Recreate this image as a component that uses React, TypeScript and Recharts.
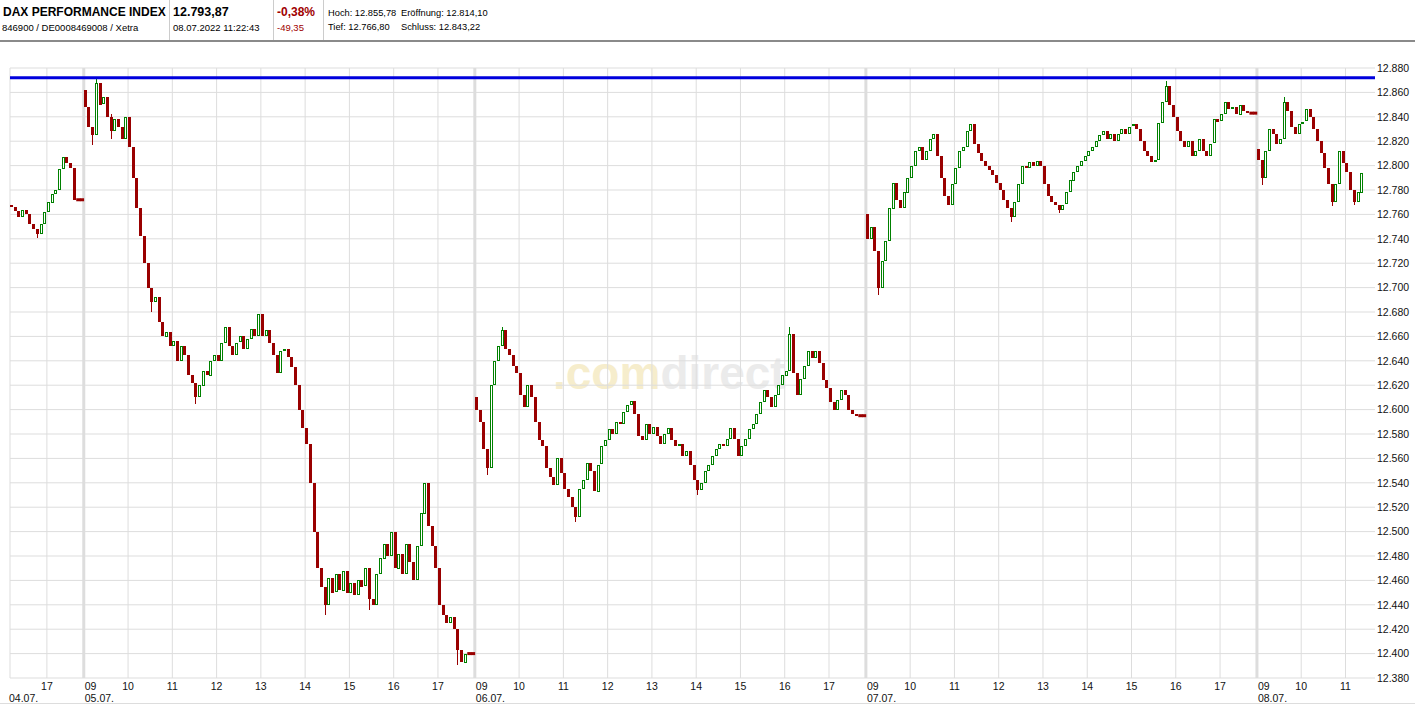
import React from 'react';
import { ComposedChart, Bar, XAxis, YAxis, CartesianGrid, ReferenceLine } from 'recharts';

// 5-minute candles, one price path per trading day: first value is the open,
// every following value is the close of the next 5-minute slot.
const dayDates = ['04.07.', '05.07.', '06.07.', '07.07.', '08.07.'];
const dayFirstSlot = [86, 0, 0, 0, 0]; // slot counted from 09:00
const daySlotCount = [20, 106, 106, 106, 32];
const dayHours = [
  [17],
  [9, 10, 11, 12, 13, 14, 15, 16, 17],
  [9, 10, 11, 12, 13, 14, 15, 16, 17],
  [9, 10, 11, 12, 13, 14, 15, 16, 17],
  [9, 10, 11],
];

const path0407 = [
  12768,
  12766, 12763, 12758, 12764, 12760, 12752, 12748, 12744, 12752, 12762,
  12770, 12777, 12780, 12797, 12807, 12802, 12798, 12772, 12772, 12772,
];

const path0507 = [
  12862,
  12848, 12832, 12825, 12868, 12850, 12856, 12840, 12828, 12838, 12832, 12822, 12840,
  12815, 12790, 12765, 12742, 12720, 12700, 12688, 12692, 12672, 12660, 12664, 12652,
  12656, 12640, 12652, 12645, 12628, 12622, 12610, 12620, 12632, 12628, 12640, 12645,
  12640, 12655, 12668, 12652, 12645, 12655, 12660, 12650, 12658, 12666, 12660, 12678,
  12660, 12665, 12655, 12645, 12630, 12648, 12650, 12643, 12635, 12620, 12600, 12585,
  12572, 12540, 12500, 12470, 12455, 12440, 12462, 12450, 12465, 12452, 12468, 12450,
  12458, 12448, 12460, 12455, 12470, 12445, 12440, 12465, 12478, 12490, 12480, 12500,
  12470, 12482, 12465, 12490, 12475, 12460, 12488, 12515, 12540, 12505, 12488, 12470,
  12440, 12432, 12425, 12430, 12420, 12403, 12393, 12400, 12400, 12400,
];

const path0607 = [
  12610,
  12600, 12590, 12568, 12552, 12620, 12640, 12652, 12665, 12650, 12645, 12636, 12630,
  12612, 12602, 12620, 12610, 12590, 12575, 12570, 12552, 12545, 12538, 12560, 12548,
  12535, 12528, 12520, 12512, 12535, 12542, 12556, 12550, 12533, 12555, 12570, 12575,
  12584, 12580, 12590, 12588, 12598, 12604, 12607, 12596, 12578, 12575, 12588, 12580,
  12586, 12578, 12572, 12580, 12585, 12575, 12570, 12572, 12562, 12566, 12555, 12542,
  12534, 12540, 12550, 12555, 12562, 12568, 12572, 12570, 12576, 12585, 12576, 12562,
  12570, 12576, 12584, 12588, 12596, 12606, 12616, 12610, 12602, 12612, 12620, 12628,
  12632, 12662, 12630, 12612, 12625, 12636, 12648, 12642, 12648, 12638, 12624, 12618,
  12606, 12600, 12608, 12616, 12612, 12600, 12596, 12595, 12595, 12595,
];

const path0707 = [
  12760,
  12740, 12750, 12730, 12700, 12722, 12738, 12765, 12786, 12772, 12765, 12778, 12790,
  12800, 12812, 12815, 12805, 12812, 12822, 12826, 12808, 12790, 12775, 12768, 12785,
  12798, 12812, 12815, 12828, 12834, 12818, 12810, 12804, 12800, 12796, 12792, 12786,
  12780, 12772, 12765, 12758, 12770, 12785, 12800, 12798, 12803, 12800, 12804, 12800,
  12785, 12775, 12770, 12768, 12764, 12768, 12778, 12788, 12795, 12800, 12804, 12808,
  12812, 12815, 12820, 12825, 12828, 12822, 12826, 12820, 12826, 12830, 12826, 12832,
  12834, 12830, 12820, 12812, 12808, 12803, 12805, 12835, 12852, 12865, 12850, 12840,
  12828, 12820, 12815, 12820, 12808, 12812, 12822, 12812, 12808, 12818, 12838, 12836,
  12842, 12852, 12846, 12848, 12842, 12850, 12845, 12843, 12843, 12843,
];

const path0807 = [
  12814,
  12805, 12790, 12812, 12830, 12826, 12818, 12822, 12852, 12845, 12832, 12826, 12834,
  12836, 12846, 12840, 12830, 12820, 12810, 12798, 12785, 12770, 12785, 12812, 12802,
  12795, 12780, 12770, 12778, 12794,
];

const dayPaths = [path0407, path0507, path0607, path0707, path0807];

// visible wicks beyond the body: [day, slot, high, low]
const wicks: [number, number, number, number][] = [
  [0, 7, 12746, 12741],
  [1, 2, 12832, 12817],
  [1, 3, 12871, 12825],
  [1, 7, 12842, 12822],
  [1, 18, 12694, 12680],
  [1, 30, 12622, 12605],
  [1, 65, 12455, 12432],
  [1, 77, 12470, 12436],
  [1, 101, 12420, 12391],
  [2, 3, 12568, 12546],
  [2, 7, 12668, 12652],
  [2, 27, 12520, 12508],
  [2, 60, 12542, 12530],
  [2, 85, 12668, 12632],
  [3, 3, 12730, 12694],
  [3, 39, 12765, 12754],
  [3, 52, 12768, 12761],
  [3, 81, 12869, 12852],
  [4, 1, 12805, 12784],
  [4, 7, 12856, 12822],
  [4, 20, 12785, 12767],
  [4, 26, 12780, 12768],
];

const priceTicks = [
  12380, 12400, 12420, 12440, 12460, 12480, 12500, 12520, 12540, 12560, 12580, 12600, 12620,
  12640, 12660, 12680, 12700, 12720, 12740, 12760, 12780, 12800, 12820, 12840, 12860, 12880,
];
const periodHigh = 12872;

const RED = '#990000';
const GREEN = '#008000';
const GRID = '#dddddd';
const FONT = '"Liberation Sans", Arial, sans-serif';

const CHART_W = 1415;
const CHART_H = 706;
const PLOT_LEFT = 10;
const Y_AXIS_W = 40;

type Row = { i: number; o?: number; c?: number; range?: [number, number] };

const wickMap: Record<string, [number, number]> = {};
wicks.forEach(([d, s, h, l]) => {
  wickMap[`${d}-${s}`] = [h, l];
});

const rows: Row[] = [];
const dayStartIndex: number[] = [];
dayPaths.forEach((path, d) => {
  dayStartIndex.push(rows.length);
  for (let s = 0; s < daySlotCount[d]; s++) {
    const i = rows.length;
    if (s + 1 < path.length) {
      const o = path[s];
      const c = path[s + 1];
      let lo = Math.min(o, c);
      let hi = Math.max(o, c);
      const w = wickMap[`${d}-${s}`];
      if (w) {
        hi = Math.max(hi, w[0]);
        lo = Math.min(lo, w[1]);
      }
      rows.push({ i, o, c, range: lo === hi ? [lo - 1, hi + 1] : [lo, hi] });
    } else {
      rows.push({ i });
    }
  }
});

type TickInfo = { hour: string; date?: string; dayStart: boolean; edge?: boolean };
const tickInfo: Record<number, TickInfo> = {};
dayDates.forEach((date, d) => {
  const base = dayStartIndex[d];
  if (d === 0) tickInfo[base] = { hour: '', date, dayStart: false, edge: true };
  dayHours[d].forEach((h) => {
    const idx = base + (h - 9) * 12 - dayFirstSlot[d];
    tickInfo[idx] = {
      hour: String(h).padStart(2, '0'),
      date: h === 9 ? date : undefined,
      dayStart: h === 9,
    };
  });
});
const xTicks = Object.keys(tickInfo).map(Number).sort((a, b) => a - b);

const bandWidth = (CHART_W - PLOT_LEFT - Y_AXIS_W) / rows.length;
const bandHalf = bandWidth / 2;

const fmtPrice = (v: number) => `${Math.floor(v / 1000)}.${String(v % 1000).padStart(3, '0')}`;

const Candle = (props: any) => {
  const { x, y, width, height, payload } = props;
  if (!payload || payload.o == null || payload.c == null || !payload.range) return null;
  const { o, c } = payload;
  if (o === c) {
    // flat slot after the close: a thick horizontal dash joining its neighbours
    return <rect x={x - (bandWidth - width) / 2} y={y + height / 2 - 1.5} width={bandWidth + 0.5} height={3} fill={RED} />;
  }
  const [rLo, rHi] = payload.range;
  const k = height / (rHi - rLo);
  const bodyHi = Math.max(o, c);
  const bodyLo = Math.min(o, c);
  const left = Math.round(x);
  const mid = left + 1.5;
  const yTop = y + (rHi - bodyHi) * k;
  const yBot = y + (rHi - bodyLo) * k;
  const hasWick = rHi > bodyHi + 0.5 || rLo < bodyLo - 0.5;
  const up = c > o;
  return (
    <g shapeRendering="crispEdges">
      {hasWick && <line x1={mid} x2={mid} y1={y} y2={y + height} stroke={up ? GREEN : RED} strokeWidth={1} />}
      {up ? (
        <rect
          x={left + 0.5}
          y={Math.round(yTop) + 0.5}
          width={2}
          height={Math.max(Math.round(yBot - yTop) - 1, 1)}
          fill="#ffffff"
          stroke={GREEN}
          strokeWidth={1}
        />
      ) : (
        <rect x={left} y={yTop} width={width - 0.5} height={Math.max(yBot - yTop, 2)} fill={RED} />
      )}
    </g>
  );
};

const XTick = (props: any) => {
  const { x, payload } = props;
  const info = tickInfo[payload.value];
  if (!info) return null;
  const x0 = x - bandHalf;
  return (
    <g fontFamily={FONT} fontSize={10.5} fill="#111">
      {info.hour && (
        <text x={info.dayStart ? x0 + 1 : x0} y={689.5} textAnchor={info.dayStart ? 'start' : 'middle'}>
          {info.hour}
        </text>
      )}
      {info.date && (
        <text x={info.edge ? x0 - 1 : x0 + 1} y={702} textAnchor="start">
          {info.date}
        </text>
      )}
    </g>
  );
};

const YTick = (props: any) => {
  const { y, payload } = props;
  return (
    <text x={1377} y={y} dy={3.8} fontFamily={FONT} fontSize={10.5} fill="#111">
      {fmtPrice(payload.value)}
    </text>
  );
};

const txt = (left: number, top: number, size: number, content: string, extra: React.CSSProperties = {}) => (
  <div
    style={{
      position: 'absolute',
      left,
      top,
      fontSize: size,
      fontFamily: FONT,
      lineHeight: `${size + 2}px`,
      whiteSpace: 'nowrap',
      color: '#000',
      ...extra,
    }}
  >
    {content}
  </div>
);

const Header = () => (
  <>
    {txt(3, 5, 12, 'DAX PERFORMANCE INDEX', { fontWeight: 'bold' })}
    {txt(2, 22, 9.5, '846900 / DE0008469008 / Xetra')}
    {txt(173, 5, 12.5, '12.793,87', { fontWeight: 'bold' })}
    {txt(173, 22, 9.5, '08.07.2022 11:22:43')}
    {txt(277, 5, 12, '-0,38%', { fontWeight: 'bold', color: '#a00000' })}
    {txt(277, 22, 9.5, '-49,35', { color: '#a00000' })}
    {txt(328, 8, 9.3, 'Hoch: 12.855,78')}
    {txt(401, 8, 9.3, 'Eröffnung: 12.814,10')}
    {txt(328, 22, 9.3, 'Tief: 12.766,80')}
    {txt(401, 22, 9.3, 'Schluss: 12.843,22')}
    {[169, 273, 323].map((l) => (
      <div key={l} style={{ position: 'absolute', left: l, top: 0, width: 1, height: 40, background: '#cccccc' }} />
    ))}
    <div style={{ position: 'absolute', left: 0, top: 40, width: CHART_W, height: 2, background: '#8a8a8a' }} />
    <div style={{ position: 'absolute', left: 0, top: 703, width: CHART_W, height: 1, background: '#dddddd' }} />
  </>
);

const Watermark = () => (
  <div
    style={{
      position: 'absolute',
      left: 553,
      top: 347,
      fontFamily: FONT,
      fontWeight: 'bold',
      fontSize: 46,
      lineHeight: '52px',
      whiteSpace: 'nowrap',
    }}
  >
    <span style={{ color: '#f6edcc' }}>.com</span>
    <span style={{ color: '#ebebeb' }}>direct</span>
  </div>
);

export default function App() {
  return (
    <div style={{ position: 'absolute', left: 0, top: 0, width: CHART_W, height: CHART_H, background: '#fff' }}>
      <Header />
      <Watermark />
      <div style={{ position: 'absolute', left: 0, top: 0 }}>
        <ComposedChart
          width={CHART_W}
          height={CHART_H}
          data={rows}
          margin={{ top: 68, right: 0, bottom: 0, left: PLOT_LEFT }}
        >
          <CartesianGrid vertical={false} stroke={GRID} strokeWidth={1} />
          <XAxis
            dataKey="i"
            type="category"
            ticks={xTicks}
            interval={0}
            height={28}
            tickLine={false}
            axisLine={false}
            tick={<XTick />}
          />
          <YAxis
            orientation="right"
            width={Y_AXIS_W}
            domain={[12380, 12880]}
            ticks={priceTicks}
            interval={0}
            allowDataOverflow
            tickLine={false}
            axisLine={false}
            tick={<YTick />}
          />
          <ReferenceLine x={0} position="start" stroke={GRID} strokeWidth={1} zIndex={-90} />
          {xTicks
            .filter((t) => tickInfo[t].hour !== '')
            .map((t) => (
              <ReferenceLine
                key={t}
                x={t}
                position="start"
                stroke={GRID}
                strokeWidth={tickInfo[t].dayStart ? 3 : 1}
                zIndex={-90}
              />
            ))}
          <Bar dataKey="range" barSize={4} shape={<Candle />} isAnimationActive={false} />
          <ReferenceLine y={periodHigh} stroke="#0000dd" strokeWidth={3} zIndex={900} />
        </ComposedChart>
      </div>
    </div>
  );
}
